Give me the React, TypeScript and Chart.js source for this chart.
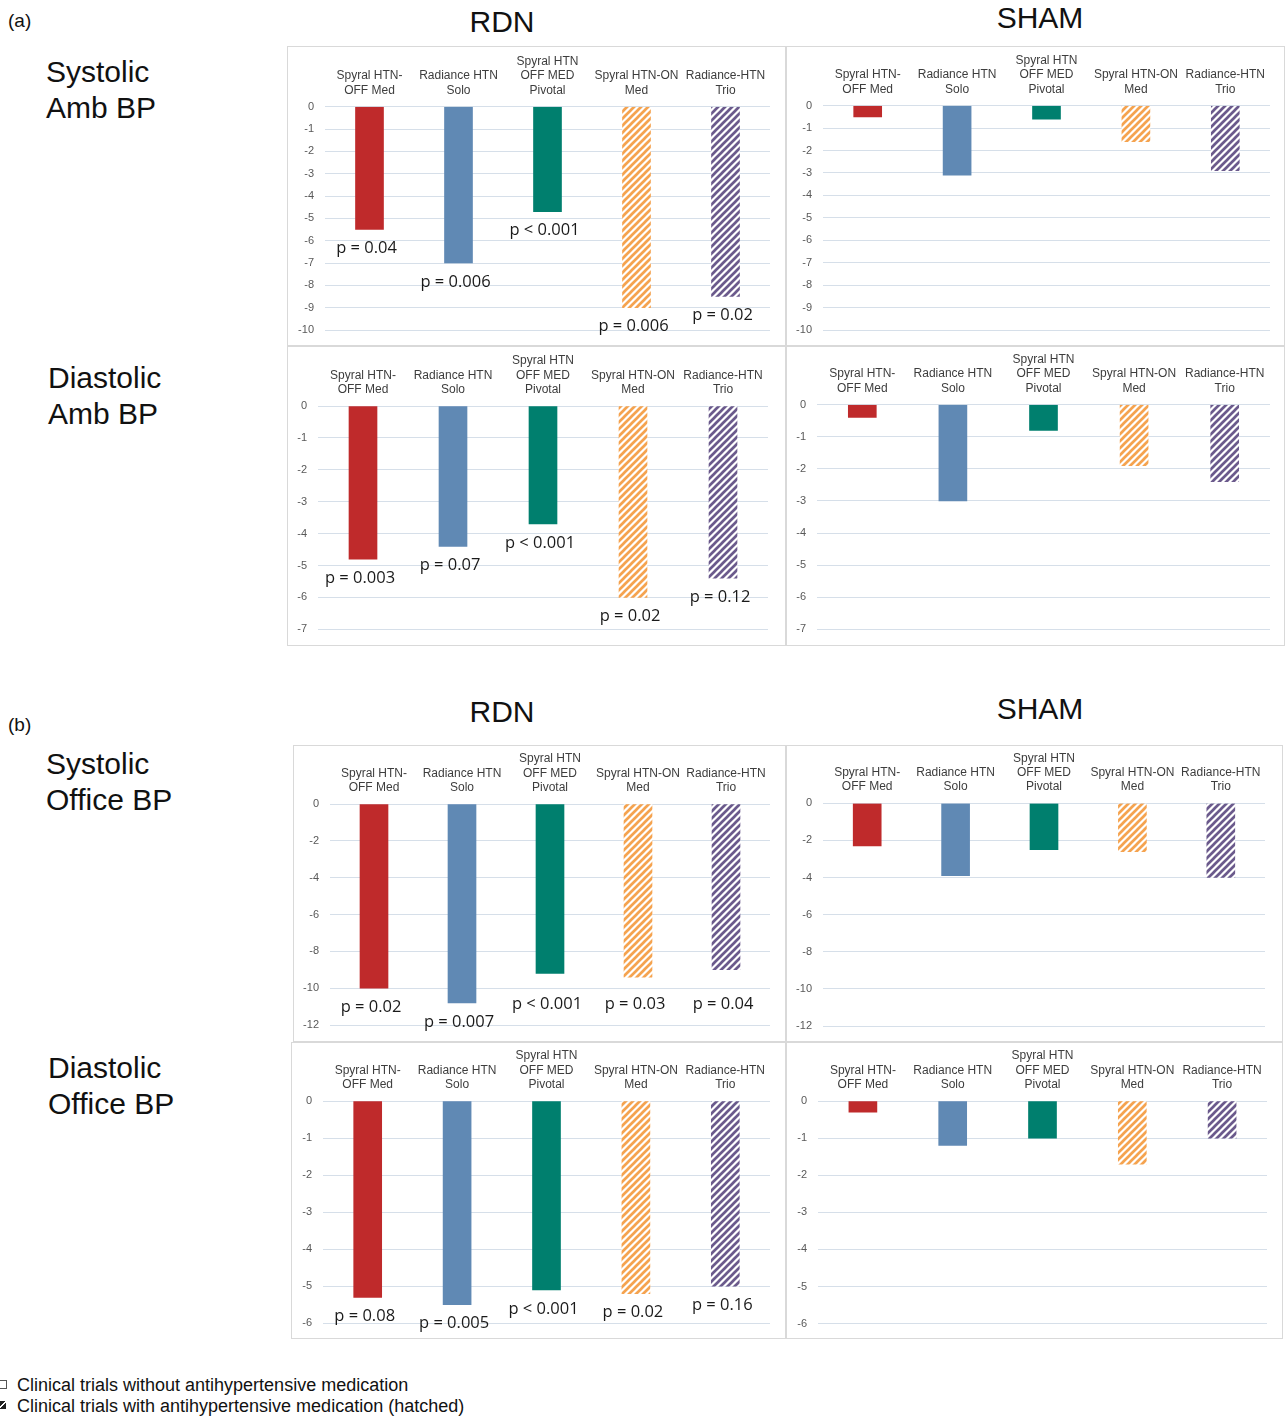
import React, { useEffect, useRef } from "react";
import { Chart, registerables } from "chart.js";
Chart.register(...registerables);

// ---------- data ----------
const categories: string[][] = [
  ["Spyral HTN-", "OFF Med"],
  ["Radiance HTN", "Solo"],
  ["Spyral HTN", "OFF MED", "Pivotal"],
  ["Spyral HTN-ON", "Med"],
  ["Radiance-HTN", "Trio"],
];

const rdnSysAmb = [-5.5, -7.0, -4.7, -9.0, -8.5];
const shamSysAmb = [-0.5, -3.1, -0.6, -1.6, -2.9];
const rdnDiaAmb = [-4.8, -4.4, -3.7, -6.0, -5.4];
const shamDiaAmb = [-0.4, -3.0, -0.8, -1.9, -2.4];
const rdnSysOffice = [-10.0, -10.8, -9.2, -9.4, -9.0];
const shamSysOffice = [-2.3, -3.9, -2.5, -2.6, -4.0];
const rdnDiaOffice = [-5.3, -5.5, -5.1, -5.2, -5.0];
const shamDiaOffice = [-0.3, -1.2, -1.0, -1.7, -1.0];

const pSysAmb = ["p = 0.04", "p = 0.006", "p < 0.001", "p = 0.006", "p = 0.02"];
const pDiaAmb = ["p = 0.003", "p = 0.07", "p < 0.001", "p = 0.02", "p = 0.12"];
const pSysOffice = ["p = 0.02", "p = 0.007", "p < 0.001", "p = 0.03", "p = 0.04"];
const pDiaOffice = ["p = 0.08", "p = 0.005", "p < 0.001", "p = 0.02", "p = 0.16"];

// y-axis ranges (min, step); max is 0
const ambSysAxis = [-10, 1];
const ambDiaAxis = [-7, 1];
const officeSysAxis = [-12, 2];
const officeDiaAxis = [-6, 1];

const barColors = ["#BF2A2B", "#6089B4", "#007F6E", "#F5A34F", "#6B5A8C"];
const hatched = [false, false, false, true, true];

const legendLines = [
  "Clinical trials without antihypertensive medication",
  "Clinical trials with antihypertensive medication (hatched)",
];

// ---------- helpers ----------
function makeHatch(ctx: CanvasRenderingContext2D, color: string) {
  const s = 7;
  const c = document.createElement("canvas");
  c.width = s;
  c.height = s;
  const x = c.getContext("2d")!;
  x.fillStyle = "#ffffff";
  x.fillRect(0, 0, s, s);
  x.strokeStyle = color;
  x.lineWidth = 2.7;
  x.beginPath();
  for (const k of [-s, 0, s]) {
    x.moveTo(k - 1, s + 1);
    x.lineTo(k + s + 1, -1);
  }
  x.stroke();
  return ctx.createPattern(c, "repeat")!;
}

const pLabelPlugin = {
  id: "pLabels",
  afterDatasetsDraw(chart: any, _args: any, opts: any) {
    const labels: string[] | undefined = opts && opts.labels;
    if (!labels) return;
    const meta = chart.getDatasetMeta(0);
    const ctx = chart.ctx as CanvasRenderingContext2D;
    ctx.save();
    ctx.font = '16.5px "Open Sans", "Liberation Sans", sans-serif';
    ctx.fillStyle = "#1a1a1a";
    ctx.textAlign = "center";
    ctx.textBaseline = "middle";
    meta.data.forEach((bar: any, i: number) => {
      let y = bar.y + 19;
      if (opts.floor != null) {
        y = Math.max(y, chart.scales.y.getPixelForValue(opts.floor));
      }
      ctx.fillText(labels[i], bar.x - 3, y);
    });
    ctx.restore();
  },
};

type PanelCfg = {
  values: number[];
  axis: number[];
  pLabels?: string[];
  floor?: number;
  box: [number, number, number, number]; // left, top, width, height
  plot: [number, number, number, number]; // left, top, right, bottom (page coords)
};

function Panel({ cfg }: { cfg: PanelCfg }) {
  const ref = useRef<HTMLCanvasElement>(null);
  const [L, T, W, H] = cfg.box;
  const [PL, PT, PR, PB] = cfg.plot;
  const cw = W - 2;
  const ch = H - 2;
  useEffect(() => {
    const canvas = ref.current!;
    const ctx = canvas.getContext("2d")!;
    const xAxisH = 56;
    const yAxisW = PL - (L + 1);
    const bg = barColors.map((c, i) => (hatched[i] ? makeHatch(ctx, c) : c));
    const chart = new Chart(canvas, {
      type: "bar",
      data: {
        labels: categories,
        datasets: [
          {
            data: cfg.values,
            backgroundColor: bg as any,
            borderWidth: 0,
            barThickness: 28,
          },
        ],
      },
      plugins: [pLabelPlugin as any],
      options: {
        responsive: false,
        animation: false,
        layout: {
          padding: {
            left: 0,
            top: Math.max(0, PT - (T + 1) - xAxisH),
            right: L + W - 1 - PR,
            bottom: T + H - 1 - PB,
          },
        },
        plugins: {
          legend: { display: false },
          tooltip: { enabled: false },
          pLabels: { labels: cfg.pLabels, floor: cfg.floor },
        } as any,
        scales: {
          x: {
            position: "top",
            grid: { display: false, drawTicks: false },
            border: { display: false },
            ticks: {
              color: "#3d3d3d",
              font: { family: '"Liberation Sans", Arial, sans-serif', size: 12 },
              padding: 9,
              maxRotation: 0,
              autoSkip: false,
            },
            afterFit: (s: any) => {
              s.height = xAxisH;
              s.paddingLeft = 0;
              s.paddingRight = 0;
            },
          },
          y: {
            min: cfg.axis[0],
            max: 0,
            ticks: {
              stepSize: cfg.axis[1],
              color: "#595959",
              font: { family: '"Liberation Sans", Arial, sans-serif', size: 11 },
              padding: 11,
            },
            grid: { color: "#d6dfe9", drawTicks: false, lineWidth: 1 },
            border: { display: false },
            afterFit: (s: any) => {
              s.width = yAxisW;
              s.paddingTop = 0;
              s.paddingBottom = 0;
            },
          },
        },
      } as any,
    });
    return () => chart.destroy();
  }, []);
  return (
    <div
      style={{
        position: "absolute",
        left: L,
        top: T,
        width: W,
        height: H,
        border: "1px solid #d9d9d9",
        boxSizing: "border-box",
        background: "#fff",
      }}
    >
      <canvas ref={ref} width={cw} height={ch} style={{ display: "block", width: cw, height: ch }} />
    </div>
  );
}

const panels: PanelCfg[] = [
  { values: rdnSysAmb, axis: ambSysAxis, pLabels: pSysAmb, box: [287, 46, 499, 300], plot: [325, 106.7, 770, 330] },
  { values: shamSysAmb, axis: ambSysAxis, box: [786, 46, 499, 300], plot: [823, 105.7, 1270, 330] },
  { values: rdnDiaAmb, axis: ambDiaAxis, pLabels: pDiaAmb, box: [287, 346, 499, 300], plot: [318, 406, 768, 629.3] },
  { values: shamDiaAmb, axis: ambDiaAxis, box: [786, 346, 499, 300], plot: [817, 404.7, 1270, 629.3] },
  { values: rdnSysOffice, axis: officeSysAxis, pLabels: pSysOffice, floor: -10.9, box: [293, 745, 493, 297], plot: [330, 804, 770, 1025] },
  { values: shamSysOffice, axis: officeSysAxis, box: [786, 745, 497, 297], plot: [823, 803.3, 1265, 1026] },
  { values: rdnDiaOffice, axis: officeDiaAxis, pLabels: pDiaOffice, box: [291, 1042, 495, 297], plot: [323, 1101, 770, 1323.3] },
  { values: shamDiaOffice, axis: officeDiaAxis, box: [786, 1042, 497, 297], plot: [818, 1101, 1267, 1323.7] },
];

function Txt(props: { left: number; top: number; size: number; lh?: number; width?: number; center?: boolean; children: any }) {
  const { left, top, size, lh, width, center, children } = props;
  return (
    <div
      style={{
        position: "absolute",
        left,
        top,
        width,
        fontSize: size,
        lineHeight: (lh ?? size) + "px",
        textAlign: center ? "center" : "left",
        whiteSpace: "pre",
      }}
    >
      {children}
    </div>
  );
}

export default function App() {
  return (
    <div
      style={{
        position: "absolute",
        left: 0,
        top: 0,
        width: 1285,
        height: 1418,
        background: "#ffffff",
        overflow: "hidden",
        fontFamily: '"Liberation Sans", Arial, sans-serif',
        color: "#111",
      }}
    >
      <Txt left={8} top={11} size={19}>(a)</Txt>
      <Txt left={402} top={7} size={30} width={200} center>RDN</Txt>
      <Txt left={940} top={3} size={30} width={200} center>SHAM</Txt>
      <Txt left={46} top={54} size={30} lh={36}>{"Systolic\nAmb BP"}</Txt>
      <Txt left={48} top={360} size={30} lh={36}>{"Diastolic\nAmb BP"}</Txt>

      <Txt left={8} top={715} size={19}>(b)</Txt>
      <Txt left={402} top={697} size={30} width={200} center>RDN</Txt>
      <Txt left={940} top={694} size={30} width={200} center>SHAM</Txt>
      <Txt left={46} top={746} size={30} lh={36}>{"Systolic\nOffice BP"}</Txt>
      <Txt left={48} top={1050} size={30} lh={36}>{"Diastolic\nOffice BP"}</Txt>

      {panels.map((p, i) => (
        <Panel key={i} cfg={p} />
      ))}

      <div style={{ position: "absolute", left: -1, top: 1380, width: 6, height: 7, border: "1px solid #555", background: "#fff" }} />
      <div
        style={{
          position: "absolute",
          left: -1,
          top: 1401,
          width: 7,
          height: 8,
          background: "linear-gradient(135deg, #222 0%, #222 40%, #fff 45%, #fff 55%, #222 60%, #222 100%)",
        }}
      />
      <Txt left={17} top={1376} size={18}>{legendLines[0]}</Txt>
      <Txt left={17} top={1397} size={18}>{legendLines[1]}</Txt>
    </div>
  );
}
